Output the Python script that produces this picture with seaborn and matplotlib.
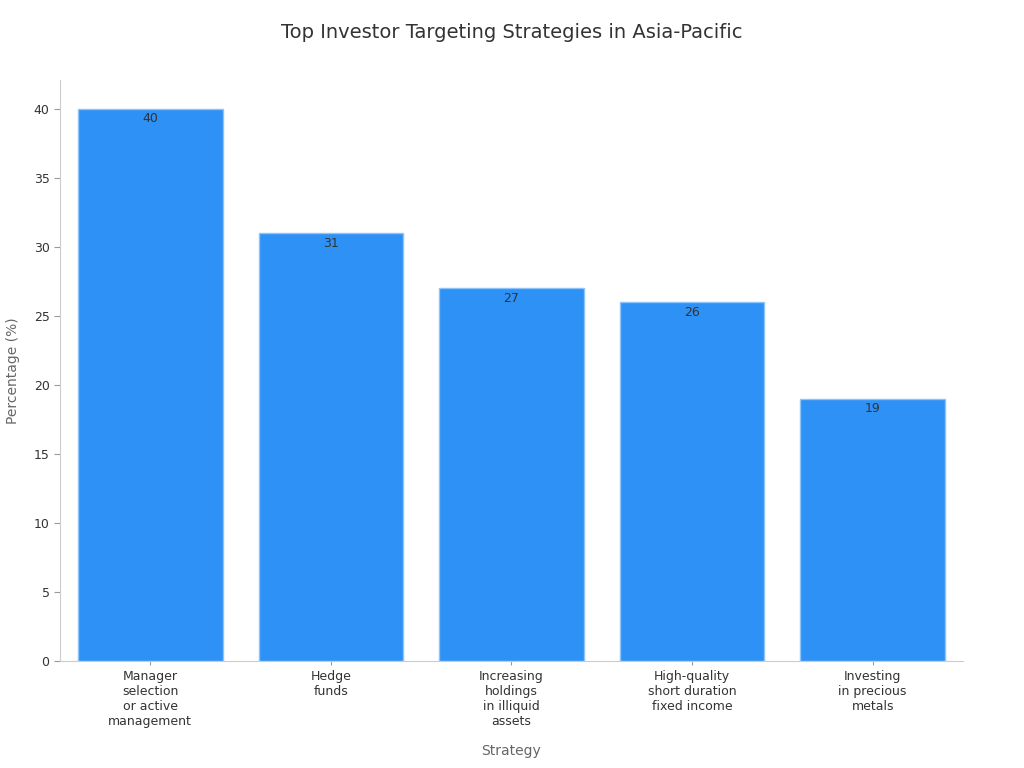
import matplotlib
matplotlib.use('Agg')
import matplotlib.pyplot as plt
import seaborn as sns
import pandas as pd

estrategias = ['Manager\nselection\nor active\nmanagement', 'Hedge\nfunds',
               'Increasing\nholdings\nin illiquid\nassets', 'High-quality\nshort duration\nfixed income',
               'Investing\nin precious\nmetals']
porcentajes = [40, 31, 27, 26, 19]

df = pd.DataFrame({'Strategy': estrategias, 'Percentage': porcentajes})

sns.set_style('white')
plt.rcParams['font.family'] = ['DejaVu Sans']

fig = plt.figure(figsize=(10.24, 7.68), dpi=100)
ax = fig.add_axes([0.0586, 0.139, 0.8818, 0.757])

sns.barplot(x='Strategy', y='Percentage', data=df, color='#2e91f5', saturation=1,
            width=0.8, edgecolor='#8cc4fa', linewidth=1, ax=ax)

for i, v in enumerate(porcentajes):
    ax.text(i, v - 0.25, str(v), ha='center', va='top', fontsize=9, color='#333333')

ax.set_ylim(0, 42.1)
ax.set_xlim(-0.5, 4.5)
ax.set_yticks(range(0, 41, 5))
ax.tick_params(axis='both', left=True, bottom=True, labelsize=9, colors='#333333',
               length=4, color='#999999')
ax.tick_params(axis='x', length=3)
for s in ['top', 'right']:
    ax.spines[s].set_visible(False)
for s in ['left', 'bottom']:
    ax.spines[s].set_color('#cccccc')

ax.set_xlabel('Strategy', fontsize=10, color='#666666', labelpad=11)
ax.set_ylabel('Percentage (%)', fontsize=10, color='#666666', labelpad=10)
fig.suptitle('Top Investor Targeting Strategies in Asia-Pacific', fontsize=14, color='#333333', y=0.97)

fig.savefig('out.png', dpi=100)
